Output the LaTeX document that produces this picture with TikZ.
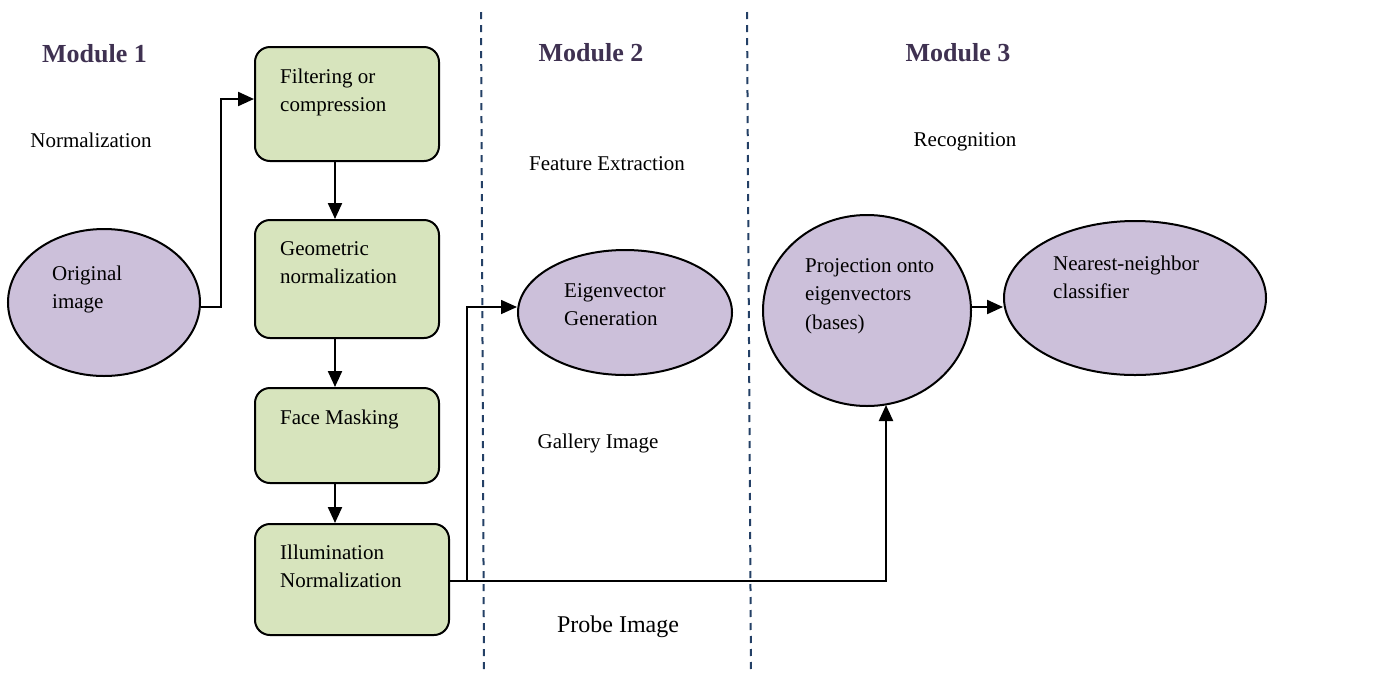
\documentclass[tikz,border=0pt]{standalone}
\usepackage{fontspec}
\setmainfont{Liberation Serif}
\usetikzlibrary{shapes.geometric,arrows.meta}
\definecolor{boxgreen}{RGB}{215,228,189}
\definecolor{ovalpurple}{RGB}{204,192,218}
\definecolor{titlepurple}{RGB}{63,49,81}
\definecolor{sepblue}{RGB}{36,64,102}

\begin{document}
\begin{tikzpicture}[x=1pt,y=-1pt,
  stagebox/.style={draw=black, line width=2pt, fill=boxgreen, rounded corners=15pt, inner sep=0pt},
  oval/.style={ellipse, draw=black, line width=2pt, fill=ovalpurple, inner sep=0pt},
  % the base of a multi-line text is the baseline of its last line
  txt/.style={font=\fontsize{21}{28.5}\selectfont, align=left, anchor=base west, inner sep=0pt},
  title/.style={font=\fontsize{26}{30}\selectfont\bfseries, text=titlepurple, inner sep=0pt},
  lbl/.style={font=\fontsize{21}{25}\selectfont, inner sep=0pt},
  arr/.style={line width=2.2pt, -{Triangle[length=16pt,width=14pt]}},
  sep/.style={draw=sepblue, line width=2pt, dash pattern=on 7pt off 6pt}]

\useasboundingbox (0,0) rectangle (1381,673);

% module separators
\coordinate (s1t) at (481,12);
\coordinate (s1b) at (484,673);
\coordinate (s2t) at (747,12);
\coordinate (s2b) at (751,673);
\draw[sep] (s1t) -- (s1b);
\draw[sep] (s2t) -- (s2b);

% titles and captions
\node[title] (m1) at (94.5,54) {Module 1};
\node[title] (m2) at (591,53) {Module 2};
\node[title] (m3) at (958,53) {Module 3};
\node[lbl] (lnorm) at (91,140) {Normalization};
\node[lbl] (lfeat) at (607,164) {Feature Extraction};
\node[lbl] (lrec) at (965,142) {Recognition};
\node[lbl] (lgal) at (598,443) {Gallery Image};
\node[lbl, font=\fontsize{24}{28}\selectfont] (lprobe) at (618,627) {Probe Image};

% normalization stages
\node[stagebox, minimum width=184pt, minimum height=114pt] (b1) at (347,104) {};
\node[stagebox, minimum width=184pt, minimum height=118pt] (b2) at (347,279) {};
\node[stagebox, minimum width=184pt, minimum height=95pt] (b3) at (347,435.5) {};
\node[stagebox, minimum width=194pt, minimum height=111pt] (b4) at (352,579.5) {};
\node[txt] (t1) at (280,111.5) {Filtering or\\compression};
\node[txt] (t2) at (280,283.5) {Geometric\\normalization};
\node[txt] (t3) at (280,424) {Face Masking};
\node[txt] (t4) at (280,587.5) {Illumination\\Normalization};

% ellipses
\node[oval, minimum width=192pt, minimum height=147pt] (orig) at (104,302.5) {};
\node[oval, minimum width=214pt, minimum height=125pt] (eig) at (625,312.5) {};
\node[oval, minimum width=208pt, minimum height=191pt] (pe) at (867,310.5) {};
\node[oval, minimum width=262pt, minimum height=154pt] (nn) at (1135,298) {};
\node[txt] (to) at (52,308.5) {Original\\image};
\node[txt] (te) at (564,325.5) {Eigenvector\\Generation};
\node[txt] (tp) at (805,329) {Projection onto\\eigenvectors\\(bases)};
\node[txt] (tn) at (1053,298.5) {Nearest-neighbor\\classifier};

% connectors
\coordinate (ax) at (335,0);
\coordinate (jb) at (467,581);
\coordinate (pin) at (886,405);
\draw[arr] ([yshift=-4.5pt]orig.east) -- ++(20,0) |- ([yshift=5pt]b1.west);
\draw[arr] (b1.south -| ax) -- (b2.north -| ax);
\draw[arr] (b2.south -| ax) -- (b3.north -| ax);
\draw[arr] (b3.south -| ax) -- (b4.north -| ax);
\draw[arr] (b4.east |- jb) -| (pin);
\draw[arr, line width=1.6pt] (jb) |- ([yshift=5.5pt]eig.west);
\draw[arr] ([yshift=3.5pt]pe.east) -- ([yshift=-9pt]nn.west);
\end{tikzpicture}
\end{document}
